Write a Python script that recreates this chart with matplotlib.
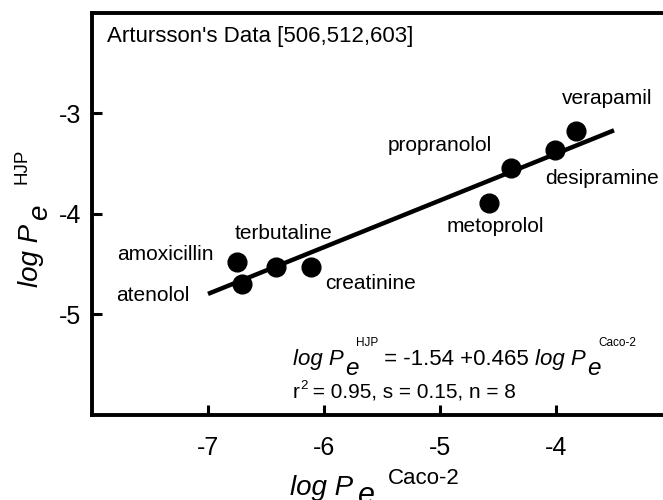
import numpy as np
import matplotlib
matplotlib.use('Agg')
import matplotlib.pyplot as plt

# Caco-2 vs HJP permeability (log units)
drugs = ['verapamil', 'desipramine', 'propranolol', 'metoprolol',
         'creatinine', 'terbutaline', 'amoxicillin', 'atenolol']
log_pe_caco2 = [-3.83, -4.01, -4.39, -4.58, -6.11, -6.41, -6.75, -6.71]
log_pe_hjp = [-3.17, -3.36, -3.54, -3.89, -4.53, -4.53, -4.48, -4.70]

# regression: log Pe(HJP) = -1.54 + 0.465 log Pe(Caco-2)
intercept, slope = -1.54, 0.465
fit_range = [-7.0, -3.5]

# where each drug name sits (data coords)
label_pos = {
    'verapamil': (-3.56, -2.85),
    'desipramine': (-3.60, -3.65),
    'propranolol': (-5.00, -3.32),
    'metoprolol': (-4.52, -4.12),
    'creatinine': (-5.60, -4.69),
    'terbutaline': (-6.35, -4.19),
    'amoxicillin': (-7.37, -4.40),
    'atenolol': (-7.48, -4.81),
}

plt.rcParams['font.family'] = ['Liberation Sans', 'DejaVu Sans']
plt.rcParams['axes.unicode_minus'] = False
plt.rcParams.update({'xtick.direction': 'in', 'ytick.direction': 'in'})

W, H = 663, 500
fig = plt.figure(figsize=(W/100, H/100), dpi=100)
ax = fig.add_axes([92/W, 1 - 415/H, 580/W, (415 - 13)/H])
renderer = fig.canvas.get_renderer()


def rich_text(pieces, x0, y0, rotation=0):
    """Lay text pieces one after another; x0, y0 = baseline start in figure pixels.
    Each piece: (text, size, italic, rise_px, gap_px)."""
    pos = 0.0
    for txt, size, italic, rise, gap in pieces:
        pos += gap
        if rotation == 0:
            x, y = x0 + pos, y0 + rise
        else:
            x, y = x0 - rise, y0 + pos
        t = fig.text(x/W, y/H, txt, fontsize=size, style='italic' if italic else 'normal',
                     ha='left', va='baseline', rotation=rotation, rotation_mode='anchor')
        bb = t.get_window_extent(renderer)
        pos += bb.width if rotation == 0 else bb.height


xf = np.array(fit_range)
ax.plot(xf, intercept + slope*xf, color='k', lw=3.2, solid_capstyle='butt', zorder=2)
ax.plot(log_pe_caco2, log_pe_hjp, 'o', color='k', ms=13.5, zorder=3)

for name in drugs:
    tx, ty = label_pos[name]
    ax.text(tx, ty, name, fontsize=15, ha='center', va='center')

ax.text(-7.87, -2.23, "Artursson's Data [506,512,603]", fontsize=16, ha='left', va='center')

ax.set_xlim(-8, -3)
ax.set_ylim(-6, -2)
ax.set_xticks([-7, -6, -5, -4])
ax.set_yticks([-5, -4, -3])
ax.tick_params(labelsize=18, width=2.2, length=7)
ax.tick_params(axis='x', pad=15)
ax.tick_params(axis='y', pad=8)

for side in ['left', 'bottom', 'top', 'right']:
    ax.spines[side].set_linewidth(2.8)

# regression equation and statistics
rich_text([('log P', 16, True, 0, 0), ('e', 17.5, True, -10, 1), ('HJP', 8.5, False, 19, -2),
           (' = -1.54 +0.465 ', 16, False, 0, 0),
           ('log P', 16, True, 0, 0), ('e', 17.5, True, -10, 1), ('Caco-2', 8.5, False, 19, -2)],
          293, H - 365)
rich_text([('r', 15, False, 0, 0), ('2', 9.5, False, 9, 0), (' = 0.95, s = 0.15, n = 8', 15, False, 0, 0)],
          293, H - 398)

# axis titles
rich_text([('log P', 20, True, 0, 0), ('e', 22, True, -9, 5), ('Caco-2', 16, False, 11, 13)],
          290, 5)
rich_text([('log P', 20, True, 0, 0), ('e', 20, True, -9, 4), ('HJP', 13.5, False, 11, 20)],
          38, H - 287, rotation=90)

fig.savefig('out.png', dpi=100)
